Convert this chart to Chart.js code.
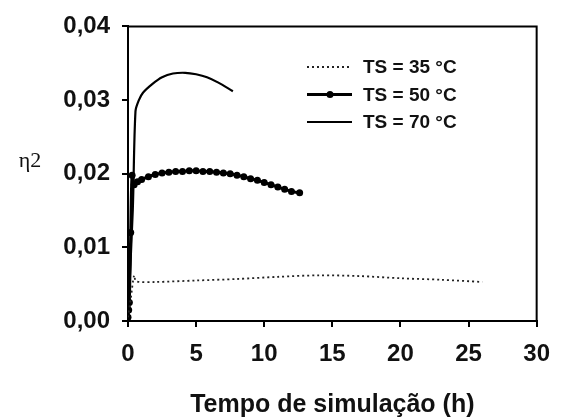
<!DOCTYPE html>
<html>
<head>
<meta charset="utf-8">
<script src="https://cdn.jsdelivr.net/npm/chart.js@4.4.1/dist/chart.umd.min.js"></script>
<style>
  html, body { margin: 0; padding: 0; background: #fff; }
  #wrap { width: 563px; height: 418px; }
</style>
</head>
<body>
<div id="wrap"><canvas id="eta_chart"></canvas></div>
<script>
// tempo (h) e eta2 para cada temperatura de secagem
var tempo35 = [0, 0.2, 0.45, 0.6, 2, 5, 8, 11, 14, 17, 20, 23, 26];
var eta35   = [0.0005, 0.003, 0.0062, 0.0054, 0.0053, 0.0055, 0.0057, 0.0060, 0.0062, 0.0061, 0.0058, 0.0056, 0.0053];

var tempo50 = [0, 0.05, 0.1, 0.2, 0.3, 0.45, 0.7, 1.0, 1.5, 2.0, 2.5, 3.0, 3.5, 4.0, 4.5, 5.0, 5.5, 6.0, 6.5, 7.0, 7.5, 8.0, 8.5, 9.0, 9.5, 10.0, 10.5, 11.0, 11.5, 12.0, 12.6];
var eta50   = [0.0005, 0.0015, 0.0025, 0.012, 0.0198, 0.0185, 0.0189, 0.0192, 0.0196, 0.0199, 0.0201, 0.0202, 0.0203, 0.0203, 0.0204, 0.0204, 0.0203, 0.0203, 0.0202, 0.0201, 0.0200, 0.0198, 0.0196, 0.0193, 0.0191, 0.0188, 0.0185, 0.0182, 0.0179, 0.0176, 0.0174];

var tempo70 = [0, 0.35, 0.55, 0.8, 1.1, 1.8, 2.5, 3.3, 4.2, 5.0, 5.8, 6.6, 7.7];
var eta70   = [0.0005, 0.015, 0.0285, 0.0300, 0.0310, 0.0322, 0.0331, 0.0336, 0.0337, 0.0335, 0.0331, 0.0324, 0.0312];

var rotulos = ['TS = 35 °C', 'TS = 50 °C', 'TS = 70 °C'];
var tituloX = 'Tempo de simulação (h)';
var tituloY = 'η2';

function pares(xs, ys) {
  var out = [];
  for (var i in xs) out.push({x: xs[i], y: ys[i]});
  return out;
}

// legenda desenhada a mao + titulos fora do padrao
var extras = {
  id: 'extras',
  afterDraw: function(chart) {
    var ctx = chart.ctx;
    var a = chart.chartArea;
    ctx.save();
    // moldura superior e direita
    ctx.strokeStyle = '#000';
    ctx.lineWidth = 2;
    ctx.beginPath();
    ctx.moveTo(a.left, a.top);
    ctx.lineTo(a.right, a.top);
    ctx.lineTo(a.right, a.bottom);
    ctx.stroke();

    chart.data.datasets.forEach(function(ds, i) {
      var y = 67 + i * 27.5;
      ctx.strokeStyle = ds.borderColor;
      ctx.lineWidth = ds.borderWidth;
      ctx.setLineDash(ds.borderDash || []);
      ctx.beginPath();
      ctx.moveTo(307, y);
      ctx.lineTo(352, y);
      ctx.stroke();
      ctx.setLineDash([]);
      if (ds.pointRadius > 0) {
        ctx.fillStyle = ds.pointBackgroundColor;
        ctx.beginPath();
        ctx.arc(330, y, ds.pointRadius, 0, Math.PI * 2);
        ctx.fill();
      }
      ctx.fillStyle = '#111';
      ctx.font = 'bold 19px "Liberation Sans", Arial, sans-serif';
      ctx.textAlign = 'left';
      ctx.textBaseline = 'middle';
      ctx.fillText(ds.label, 363, y + 1);
    });

    ctx.fillStyle = '#111';
    ctx.font = 'bold 25px "Liberation Sans", Arial, sans-serif';
    ctx.textAlign = 'center';
    ctx.textBaseline = 'middle';
    ctx.fillText(tituloX, (a.left + a.right) / 2, 405);

    ctx.font = '22px "Liberation Serif", "Times New Roman", serif';
    ctx.fillText(tituloY, 30, 161);
    ctx.restore();
  }
};

var ctx = document.getElementById('eta_chart');

var grafico = new Chart(ctx, {
  type: 'line',
  data: {
    datasets: [
      {
        label: rotulos[0],
        data: pares(tempo35, eta35),
        borderColor: '#222',
        borderWidth: 1.8,
        borderDash: [2, 3],
        pointRadius: 0,
        tension: 0.3
      },
      {
        label: rotulos[1],
        data: pares(tempo50, eta50),
        borderColor: '#000',
        borderWidth: 3,
        pointRadius: 3.5,
        pointBackgroundColor: '#000',
        pointBorderWidth: 0,
        tension: 0.3
      },
      {
        label: rotulos[2],
        data: pares(tempo70, eta70),
        borderColor: '#000',
        borderWidth: 2.2,
        pointRadius: 0,
        tension: 0.3
      }
    ]
  },
  options: {
    responsive: true,
    maintainAspectRatio: false,
    animation: false,
    layout: { padding: { left: 0, top: 26, right: 26, bottom: 0 } },
    plugins: {
      legend: { display: false },
      tooltip: { enabled: false }
    },
    scales: {
      x: {
        type: 'linear',
        min: 0,
        max: 30,
        afterFit: function(s) { s.height = 97; },
        ticks: {
          stepSize: 5,
          color: '#111',
          padding: 13,
          font: { family: '"Liberation Sans", Arial, sans-serif', size: 24, weight: 'bold' }
        },
        grid: { display: true, drawOnChartArea: false, drawTicks: true, tickLength: 6, color: '#000', lineWidth: 2 },
        border: { display: true, color: '#000', width: 2 }
      },
      y: {
        min: 0,
        max: 0.04,
        afterFit: function(s) { s.width = 128; },
        ticks: {
          stepSize: 0.01,
          color: '#111',
          padding: 12,
          font: { family: '"Liberation Sans", Arial, sans-serif', size: 24, weight: 'bold' },
          callback: function(v) { return v.toFixed(2).replace('.', ','); }
        },
        grid: { display: true, drawOnChartArea: false, drawTicks: true, tickLength: 6, color: '#000', lineWidth: 2 },
        border: { display: true, color: '#000', width: 2 }
      }
    }
  },
  plugins: [extras]
});
</script>
</body>
</html>
